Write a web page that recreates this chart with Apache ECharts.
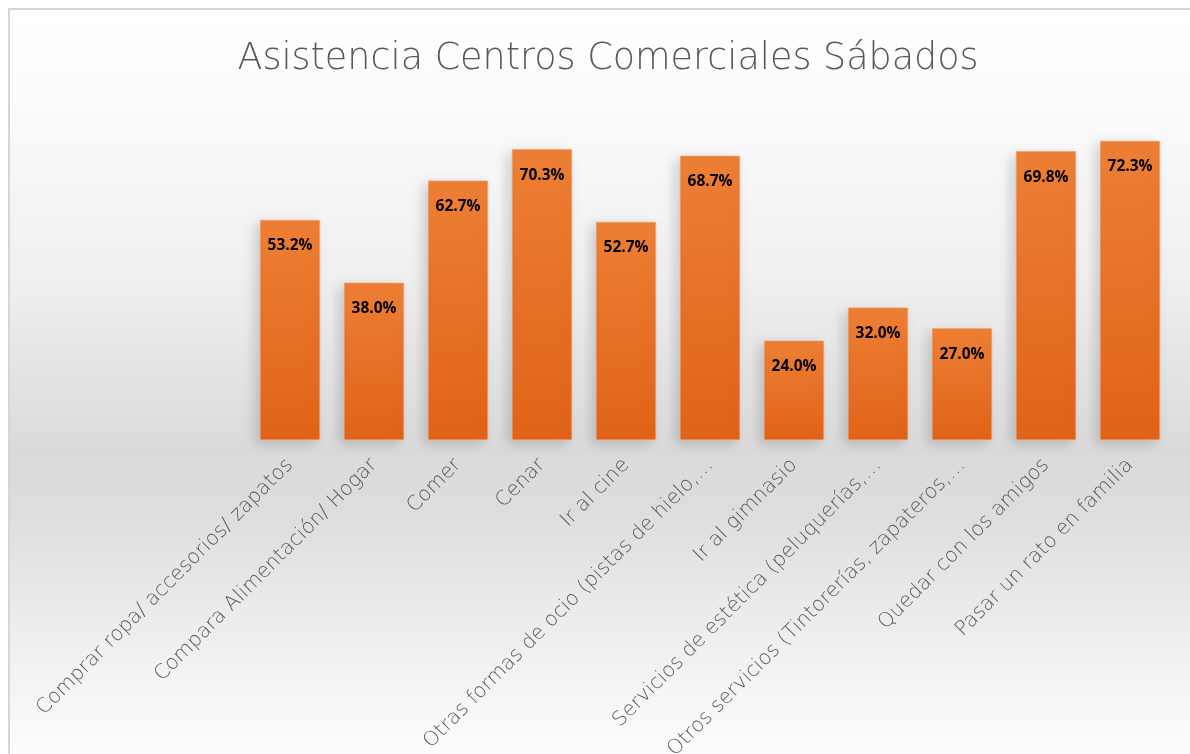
<!DOCTYPE html>
<html>
<head>
<meta charset="utf-8">
<style>
html,body{margin:0;padding:0;background:#ffffff;}
#chart{width:1190px;height:754px;}
</style>
<script src="https://cdn.jsdelivr.net/npm/echarts@6/dist/echarts.min.js"></script>
</head>
<body>
<div id="chart"></div>
<script>
const titleText = 'Asistencia Centros Comerciales Sábados';
const categories = [
  'Comprar ropa/ accesorios/ zapatos',
  'Compara Alimentación/ Hogar',
  'Comer',
  'Cenar',
  'Ir al cine',
  'Otras formas de ocio (pistas de hielo,…',
  'Ir al gimnasio',
  'Servicios de estética (peluquerías,…',
  'Otros servicios (Tintorerías, zapateros,…',
  'Quedar con los amigos',
  'Pasar un rato en familia'
];
const values = [53.2, 38.0, 62.7, 70.3, 52.7, 68.7, 24.0, 32.0, 27.0, 69.8, 72.3];

const chart = echarts.init(document.getElementById('chart'), null, {renderer: 'canvas'});
chart.setOption({
  animation: false,
  backgroundColor: '#ffffff',
  graphic: [{
    type: 'rect',
    z: -10,
    shape: {x: 9, y: 9, width: 1200, height: 760},
    style: {
      fill: new echarts.graphic.LinearGradient(0, 0, 0, 1, [
        {offset: 0, color: '#ffffff'},
        {offset: 0.12, color: '#fbfbfb'},
        {offset: 0.35, color: '#f0f0f0'},
        {offset: 0.58, color: '#dadada'},
        {offset: 0.66, color: '#dddddd'},
        {offset: 0.85, color: '#f1f1f1'},
        {offset: 1, color: '#fefefe'}
      ]),
      stroke: '#d6d6d6',
      lineWidth: 2
    }
  }],
  title: {
    text: titleText,
    left: 603,
    top: 36,
    textAlign: 'center',
    textStyle: {
      fontFamily: 'DejaVu Sans',
      fontWeight: 200,
      fontSize: 36.5,
      color: '#595959'
    }
  },
  grid: {left: 248, right: 18, top: 109, bottom: 314, containLabel: false, outerBoundsMode: 'none'},
  xAxis: {
    type: 'category',
    data: categories,
    axisLine: {show: false},
    axisTick: {show: false},
    axisLabel: {
      rotate: 45,
      interval: 0,
      margin: 22,
      fontFamily: 'DejaVu Sans',
      fontWeight: 200,
      fontSize: 20.3,
      color: '#595959'
    }
  },
  yAxis: {
    type: 'value',
    min: 0,
    max: 80,
    interval: 10,
    show: false,
    splitLine: {show: false}
  },
  series: [{
    type: 'bar',
    data: values,
    barWidth: 60,
    itemStyle: {
      color: new echarts.graphic.LinearGradient(0, 0, 0, 1, [
        {offset: 0, color: '#ed7f35'},
        {offset: 1, color: '#e06317'}
      ]),
      borderColor: '#f2a070',
      borderWidth: 0.6,
      shadowColor: 'rgba(0,0,0,0.16)',
      shadowBlur: 12,
      shadowOffsetX: -5,
      shadowOffsetY: 4
    },
    label: {
      show: true,
      position: 'insideTop',
      distance: 18,
      formatter: p => p.value.toFixed(1) + '%',
      fontFamily: 'Open Sans',
      fontWeight: 'bold',
      fontSize: 15.5,
      color: '#000000'
    }
  }]
});
</script>
</body>
</html>
